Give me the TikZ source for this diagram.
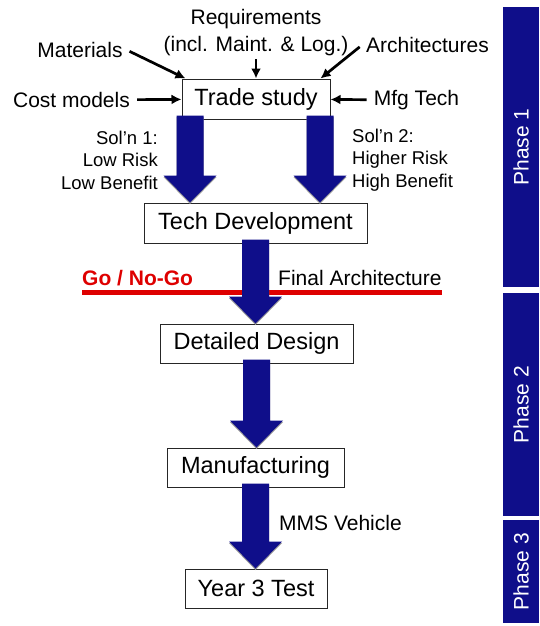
\documentclass[tikz,border=0pt]{standalone}
\usepackage{fontspec}
\setmainfont{Liberation Sans}
\usepackage{tikz}
\usetikzlibrary{arrows.meta,positioning,calc,shadows}
\definecolor{navy}{RGB}{15,14,138}
\definecolor{gored}{RGB}{222,0,0}

% wide block arrow from the bottom of one box down to the top of the next
\newcommand{\blockarrow}[3][0pt]{%
  \fill[navy,drop shadow={shadow xshift=0pt,shadow yshift=-1.5pt,fill=gray!80,opacity=1}]
    let \p1=([xshift=#1,yshift=4pt]#2.south), \p2=(#3.north) in
    (\x1-13.5pt,\y1) -- (\x1+13.5pt,\y1) -- (\x1+13.5pt,\y2+27pt) -- (\x1+26.5pt,\y2+27pt)
    -- (\x1,\y2) -- (\x1-26.5pt,\y2+27pt) -- (\x1-13.5pt,\y2+27pt) -- cycle;}

\begin{document}
\begin{tikzpicture}[x=1pt,y=-1pt,
  box/.style={draw=black!85,line width=1pt,fill=white,inner sep=0pt,font=\fontsize{23.5}{28}\selectfont},
  lbl/.style={inner sep=4pt,font=\fontsize{21}{27}\selectfont},
  sol/.style={inner sep=0pt,font=\fontsize{18.5}{22.5}\selectfont},
  feed/.style={-{Latex[length=10pt,width=10pt]},line width=2.7pt,shorten <=3pt},
  phase/.style={fill=navy,text=white,rotate=90,minimum height=36pt,inner sep=0pt,font=\fontsize{21}{24}\selectfont}]
  \useasboundingbox (0,0) rectangle (539,626);

  % main chain of steps
  \node[box,minimum width=148pt,minimum height=40pt] (trade) at (256,99) {Trade study};
  \node[box,minimum width=223pt,minimum height=40pt] (techdev) at (255.5,223) {Tech Development};
  \node[box,minimum width=193pt,minimum height=39pt] (design) at (256.5,343.5) {Detailed Design};
  \node[box,minimum width=177pt,minimum height=39pt] (mfg) at (255.5,467.5) {Manufacturing};
  \node[box,minimum width=142pt,minimum height=39pt] (test) at (256,588.5) {Year 3 Test};

  % inputs to the trade study
  \node[lbl,align=center,inner sep=0pt] (req) at (256,33) {Requirements\\(incl. Maint. \& Log.)};
  \node[lbl] (mat) at (80,50) {Materials};
  \node[lbl] (arch) at (427.5,45) {Architectures};
  \node[lbl] (cost) at (71.5,100) {Cost models};
  \node[lbl] (mfgtech) at (416.5,100) {Mfg Tech};
  \draw[feed] (req) -- (trade);
  \draw[feed] (mat.east) -- ([xshift=4pt]trade.north west);
  \draw[feed] (arch.west) -- ([xshift=-10pt]trade.north east);
  \draw[feed] (cost) -- (trade);
  \draw[feed] (mfgtech) -- (trade);

  % the two solutions
  \node[sol,anchor=east,align=right] (sol1) at (158,160) {Sol’n 1:\\Low Risk\\Low Benefit};
  \node[sol,anchor=west,align=left] (sol2) at (352,160) {Sol’n 2:\\Higher Risk\\High Benefit};

  % go / no-go gate
  \coordinate (gateL) at (82,292);
  \coordinate (gateR) at (442,292);
  \draw[gored,line width=5pt] (gateL) -- (gateR);
  \node[anchor=base west,inner sep=0pt,text=gored,font=\bfseries\fontsize{21}{25}\selectfont] (gonogo) at (82,285) {Go / No-Go};
  \node[anchor=base west,inner sep=0pt,font=\fontsize{21}{25}\selectfont] (finalarch) at (278,285) {Final Architecture};
  \node[lbl,anchor=west] (mms) at (275,523) {MMS Vehicle};

  \blockarrow[-66pt]{trade}{techdev}
  \blockarrow[64pt]{trade}{techdev}
  \blockarrow{techdev}{design}
  \blockarrow{design}{mfg}
  \blockarrow{mfg}{test}

  % phase bars
  \node[phase,minimum width=280pt] (ph1) at (521,147) {Phase 1};
  \node[phase,minimum width=223pt] (ph2) at (521,404.5) {Phase 2};
  \node[phase,minimum width=103pt] (ph3) at (521,571.5) {Phase 3};
\end{tikzpicture}
\end{document}
